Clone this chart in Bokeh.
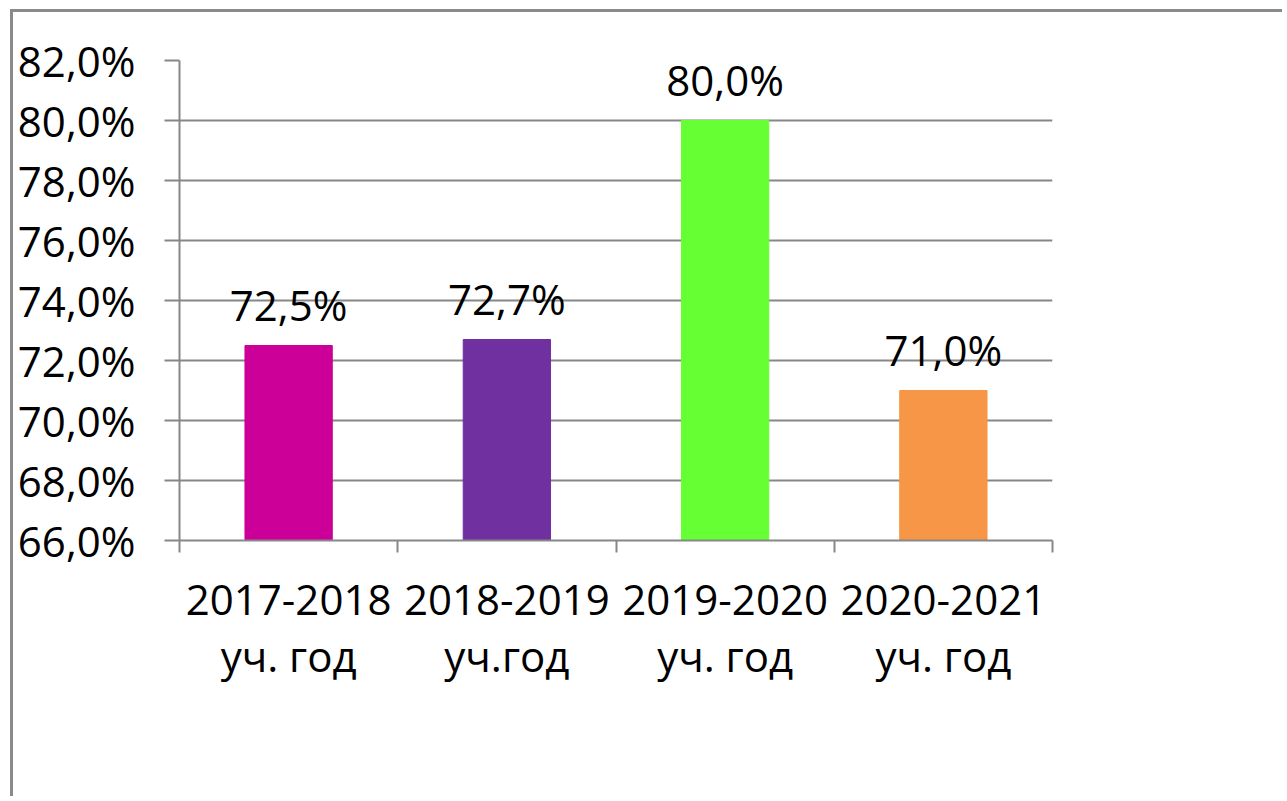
from bokeh.plotting import figure
from bokeh.models import FixedTicker, ColumnDataSource, LinearAxis, Range1d
from bokeh.core.properties import value
from bokeh.embed import file_html
from bokeh.resources import INLINE

categories = ["2017-2018\nуч. год", "2018-2019\nуч.год", "2019-2020\nуч. год", "2020-2021\nуч. год"]
values = [72.5, 72.7, 80.0, 71.0]
bar_labels = ["72,5%", "72,7%", "80,0%", "71,0%"]
colors = ["#CC0099", "#7030A0", "#66FF33", "#F79646"]
y_ticks = [66, 68, 70, 72, 74, 76, 78, 80, 82]
y_tick_labels = ["66,0%", "68,0%", "70,0%", "72,0%", "74,0%", "76,0%", "78,0%", "80,0%", "82,0%"]

FONT = "Open Sans"
GRAY = "#878787"

xs = [i + 0.5 for i in range(len(categories))]
src = ColumnDataSource(dict(x=xs, top=values, label=bar_labels, color=colors))

p = figure(width=1272, height=787, output_backend="svg", toolbar_location=None,
           x_range=Range1d(0, 4), y_range=Range1d(66, 82),
           x_axis_location=None, y_axis_location=None,
           min_border_left=166, min_border_right=233, min_border_top=48, min_border_bottom=259)
p.styles = {"border-top": "3px solid #8a8a8a", "border-left": "3px solid #8a8a8a",
            "margin-left": "10px", "margin-top": "9px"}
p.outline_line_color = None
p.xgrid.visible = False
p.ygrid.ticker = FixedTicker(ticks=y_ticks)
p.ygrid.grid_line_color = GRAY
p.ygrid.grid_line_width = 2

p.vbar(x="x", top="top", bottom=66, width=0.4, color="color", source=src)
p.text(x="x", y="top", text="label", source=src, text_align="center", text_baseline="alphabetic",
       y_offset=-41, text_font=value(FONT), text_font_size="42px", text_color="#000000")

yaxis = LinearAxis(ticker=FixedTicker(ticks=y_ticks),
                   major_label_overrides={t: l for t, l in zip(y_ticks, y_tick_labels)})
yaxis.axis_line_color = GRAY
yaxis.axis_line_width = 2
yaxis.major_tick_line_color = GRAY
yaxis.major_tick_line_width = 2
yaxis.major_tick_out = 15
yaxis.major_tick_in = 0
yaxis.minor_tick_line_color = None
yaxis.major_label_standoff = 29
yaxis.major_label_text_font = FONT
yaxis.major_label_text_font_size = "42px"
yaxis.major_label_text_color = "#000000"
p.add_layout(yaxis, "left")

xaxis = LinearAxis(ticker=FixedTicker(ticks=xs, minor_ticks=[0, 1, 2, 3, 4]),
                   major_label_overrides={x: c for x, c in zip(xs, categories)})
xaxis.axis_line_color = GRAY
xaxis.axis_line_width = 2
xaxis.major_tick_line_color = None
xaxis.major_tick_out = 0
xaxis.major_tick_in = 0
xaxis.minor_tick_line_color = GRAY
xaxis.minor_tick_line_width = 2
xaxis.minor_tick_out = 12
xaxis.minor_tick_in = 0
xaxis.major_label_standoff = 17
xaxis.major_label_text_font = FONT
xaxis.major_label_text_font_size = "42px"
xaxis.major_label_text_line_height = 1.0
xaxis.major_label_text_color = "#000000"
p.add_layout(xaxis, "below")

open("out.html", "w").write(file_html(p, INLINE))
